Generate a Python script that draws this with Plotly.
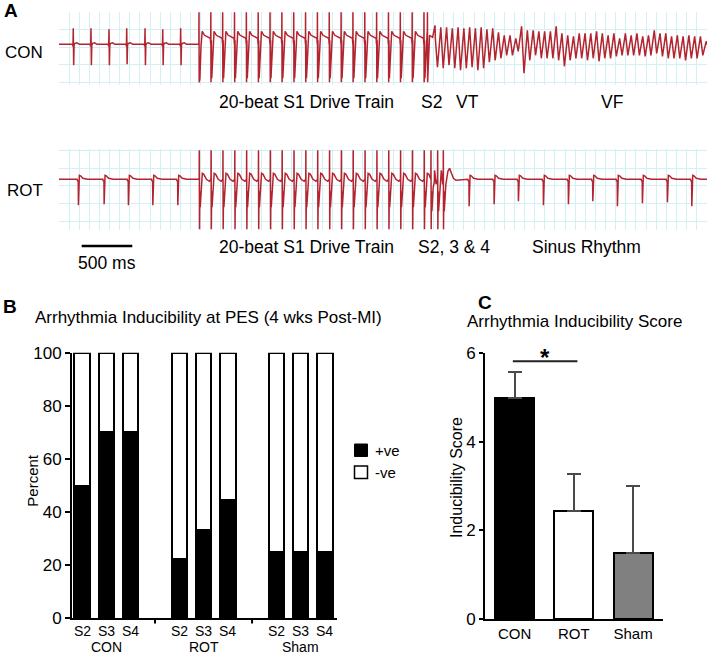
import plotly.graph_objects as go

W, H = 711, 657
def PX(x): return x / W
def PY(y): return 1 - y / H

FONT = "Arial, 'Liberation Sans', Helvetica, sans-serif"
RED = "#b3242f"
GRID = "#d3f0f4"

# ---------------- Panel A : ECG recordings (time in ms, amplitude in trace units) ----------------
con_sinus_ms = [141, 316, 494, 669, 850, 1025, 1202]
con_sinus_r = [16, 16, 15, 16, 16, 15, 16]
con_sinus_s = [-21, -21, -21, -20, -21, -21, -21]
con_s1_ms = [1383, 1500, 1617, 1734, 1851, 1968, 2085, 2202, 2319, 2436,
             2553, 2670, 2787, 2904, 3021, 3138, 3255, 3372, 3489, 3606]
con_s2_ms = [3640]
con_vt_ms = [3715, 3772, 3829, 3886, 3943, 4000, 4057, 4114, 4171, 4228, 4285, 4342,
             4399, 4456, 4513, 4570, 4627, 4684, 4741, 4798, 4855, 4912, 4969, 5026,
             5083, 5140, 5197, 5254, 5311, 5368, 5425, 5482, 5539, 5596, 5653, 5710,
             5767, 5824, 5881, 5938, 5995, 6052, 6109, 6166, 6223, 6280, 6337, 6394]
con_vt_peak = [19, 17, 17, 16, 17, 16, 17, 16, 17, 15, 16, 12, 9,
               9, 6, 18, 14, 14, 13, 13, 13, 18, 11, 9, 8, 11, 11, 11, 13, 11, 9, 11, 6,
               11, 9, 11, 8, 9, 14, 11, 11, 8, 9, 8, 9, 8, 8, 3]
con_vt_trough = [-23, -24, -21, -24, -26, -24, -23, -26, -24, -18, -16, -14, -11,
                 -11, -7, -29, -16, -11, -14, -14, -14, -16, -22, -16, -14, -14, -16, -14,
                 -17, -14, -14, -12, -11, -11, -11, -11, -12, -11, -9, -12, -14, -14, -14,
                 -16, -14, -14, -11, -4]

rot_sinus_pre_ms = [191, 445, 685, 926, 1173]
rot_sinus_pre_s = [-26, -25, -26, -26, -26]
rot_s1_ms = [1386, 1503, 1620, 1737, 1854, 1971, 2088, 2205, 2322, 2439,
             2556, 2673, 2790, 2907, 3024, 3141, 3258, 3375, 3492, 3609]
rot_extra_ms = [3675, 3741, 3797]          # S2, S3, S4
rot_sinus_post_ms = [4051, 4298, 4538, 4785, 5032, 5273, 5516, 5763, 6010, 6251]
rot_sinus_post_s = [-27, -25, -22, -26, -25, -22, -27, -24, -23, -27]

trace_end_ms = 6402
scale_bar_ms = 500

# ---------------- Panel B : inducibility (%) ----------------
groups = ["CON", "ROT", "Sham"]
stims = ["S2", "S3", "S4"]
pos_pct = [50, 70, 70, 22.2, 33.3, 44.4, 25, 25, 25]

# ---------------- Panel C : inducibility score ----------------
score_cats = ["CON", "ROT", "Sham"]
score_mean = [5.0, 2.44, 1.5]
score_sem = [0.58, 0.83, 1.5]
score_colors = ["#000000", "#ffffff", "#808080"]


# ----- beat shapes (style) -----
def con_sinus(t, r, s):
    return [(t - 8, 0), (t - 3, -2), (t, r), (t + 4, s), (t + 8, -1), (t + 16, 1), (t + 35, 1.5), (t + 60, 0)]

def con_s1(t):
    return [(t - 1, 0), (t, 32), (t + 2, -38), (t + 5, 4), (t + 9, -34), (t + 20, -2),
            (t + 32, 13), (t + 55, 9), (t + 85, 7), (t + 112, 6)]

def con_s2(t):
    return [(t - 1, 5), (t, 32), (t + 2, -38), (t + 6, -28), (t + 20, -4)]

def vt_cycle(t, p, q):
    return [(t, p), (t + 24, q)]

def rot_sinus(t, s):
    return [(t - 12, 0), (t - 6, -2), (t - 1, -1), (t + 1, s), (t + 4, -1), (t + 10, 4),
            (t + 22, 3.5), (t + 45, 1), (t + 90, 0)]

def rot_s1(t):
    return [(t - 1, 0), (t, 29), (t + 2, -50), (t + 5, -12), (t + 9, -28), (t + 16, -14),
            (t + 30, 6), (t + 45, 5), (t + 70, 0), (t + 100, -2), (t + 113, -1)]

def rot_extra(t, last):
    if not last:
        return [(t - 1, 0), (t, 29), (t + 2, -50), (t + 5, -12), (t + 9, -32), (t + 22, -8),
                (t + 36, 9), (t + 50, -5)]
    return [(t - 1, 0), (t, 29), (t + 2, -50), (t + 5, -12), (t + 9, -32), (t + 25, -5),
            (t + 45, 8), (t + 62, 11), (t + 80, 6), (t + 100, 1), (t + 125, -1)]


def assemble(chunks, end):
    pts = [(0, 0)]
    for c in chunks:
        pts.extend(c)
    pts.append((end, 0))
    pts.sort(key=lambda p: p[0])
    return [p[0] for p in pts], [p[1] for p in pts]


con_chunks = [con_sinus(t, r, s) for t, r, s in zip(con_sinus_ms, con_sinus_r, con_sinus_s)]
con_chunks += [con_s1(t) for t in con_s1_ms]
con_chunks += [con_s2(t) for t in con_s2_ms]
con_chunks += [vt_cycle(t, p, q) for t, p, q in zip(con_vt_ms, con_vt_peak, con_vt_trough)]
con_x, con_y = assemble(con_chunks, trace_end_ms)

rot_chunks = [rot_sinus(t, s) for t, s in zip(rot_sinus_pre_ms, rot_sinus_pre_s)]
rot_chunks += [rot_s1(t) for t in rot_s1_ms]
rot_chunks += [rot_extra(t, i == len(rot_extra_ms) - 1) for i, t in enumerate(rot_extra_ms)]
rot_chunks += [rot_sinus(t, s) for t, s in zip(rot_sinus_post_ms, rot_sinus_post_s)]
rot_x, rot_y = assemble(rot_chunks, trace_end_ms)

fig = go.Figure()

fig.add_trace(go.Scatter(x=con_x, y=con_y, mode="lines", line=dict(color=RED, width=1.5),
                         xaxis="x", yaxis="y", hoverinfo="skip"))
fig.add_trace(go.Scatter(x=rot_x, y=rot_y, mode="lines", line=dict(color=RED, width=1.5),
                         xaxis="x2", yaxis="y2", hoverinfo="skip"))

# Panel B bars
b_pos = [g * 4 + s for g in range(len(groups)) for s in range(len(stims))]
b_text = [s for _ in groups for s in stims]
neg_pct = [100 - v for v in pos_pct]
fig.add_trace(go.Bar(x=b_pos, y=pos_pct, width=0.64, name="+ve",
                     marker=dict(color="#000000", line=dict(color="#000000", width=2)),
                     xaxis="x3", yaxis="y3", hoverinfo="skip"))
fig.add_trace(go.Bar(x=b_pos, y=neg_pct, width=0.64, name="-ve",
                     marker=dict(color="#ffffff", line=dict(color="#000000", width=2)),
                     xaxis="x3", yaxis="y3", hoverinfo="skip"))

# Panel C bars
c_pos = list(range(len(score_cats)))
fig.add_trace(go.Bar(x=c_pos, y=score_mean, width=0.66,
                     marker=dict(color=score_colors, line=dict(color="#000000", width=2)),
                     error_y=dict(type="data", symmetric=False, array=score_sem,
                                  arrayminus=[0] * len(score_sem), color="#4a4a4a",
                                  thickness=2, width=7),
                     xaxis="x4", yaxis="y4", hoverinfo="skip"))

hidden = dict(showticklabels=False, ticks="", zeroline=False, showline=False)
tfont = dict(family=FONT, size=17, color="#000")

fig.update_layout(
    width=W, height=H, margin=dict(l=0, r=0, t=0, b=0, pad=0, autoexpand=False), autosize=False,
    paper_bgcolor="white", plot_bgcolor="rgba(0,0,0,0)", showlegend=False,
    barmode="stack", font=dict(family=FONT, color="#000"),
    xaxis=dict(domain=[PX(59), PX(707)], range=[0, trace_end_ms], anchor="y",
               showgrid=True, gridcolor=GRID, gridwidth=1, tick0=0, dtick=100, **hidden),
    yaxis=dict(domain=[PY(85), PY(12)], range=[-40.7, 32.3], anchor="x",
               showgrid=True, gridcolor=GRID, gridwidth=1, tick0=-38, dtick=17.5, **hidden),
    xaxis2=dict(domain=[PX(59), PX(707)], range=[0, trace_end_ms], anchor="y2",
                showgrid=True, gridcolor=GRID, gridwidth=1, tick0=0, dtick=100, **hidden),
    yaxis2=dict(domain=[PY(230), PY(149)], range=[-50.7, 30.3], anchor="x2",
                showgrid=True, gridcolor=GRID, gridwidth=1, tick0=-42.4, dtick=17.9, **hidden),
    xaxis3=dict(domain=[PX(72), PX(337)], range=[-0.42, 10.5], anchor="y3",
                showticklabels=False, ticks="", showline=True, linewidth=2,
                linecolor="#000", showgrid=False, zeroline=False),
    yaxis3=dict(domain=[PY(618.3), PY(352.7)], range=[0, 100], anchor="x3",
                tickvals=[0, 20, 40, 60, 80, 100], ticks="outside", ticklen=5, tickwidth=2,
                tickcolor="#000", showline=True, linewidth=2, linecolor="#000",
                showgrid=False, zeroline=False, tickfont=tfont),
    xaxis4=dict(domain=[PX(485), PX(662.7)], range=[-0.5, 2.5], anchor="y4",
                tickvals=c_pos, ticktext=score_cats, ticks="", showline=True, linewidth=2,
                linecolor="#000", showgrid=False, zeroline=False,
                tickfont=dict(family=FONT, size=15, color="#000")),
    yaxis4=dict(domain=[PY(619), PY(353.3)], range=[0, 6], anchor="x4",
                tickvals=[0, 2, 4, 6], ticks="outside", ticklen=4, tickwidth=2,
                tickcolor="#000", showline=True, linewidth=2, linecolor="#000",
                showgrid=False, zeroline=False, tickfont=tfont),
)

ann = []
def text(x, y, s, size=17, bold=False, xref="paper", yref="paper", xanchor="center",
         yanchor="middle", angle=0):
    ann.append(dict(x=x, y=y, xref=xref, yref=yref, text=("<b>%s</b>" % s) if bold else s,
                    showarrow=False, xanchor=xanchor, yanchor=yanchor, textangle=angle,
                    font=dict(family=FONT, size=size, color="#000")))

# Panel A texts
text(PX(11), PY(11), "A", size=19, bold=True)
text(PX(24), PY(52.5), "CON")
text(PX(24.7), PY(191), "ROT")
text(PX(306), PY(101.7), "20-beat S1 Drive Train", size=17.5)
text(PX(431.7), PY(101.7), "S2", size=17.5)
text(PX(467.5), PY(101.7), "VT", size=17.5)
text(PX(611.7), PY(101.7), "VF", size=17.5)
text(PX(306.3), PY(247.5), "20-beat S1 Drive Train", size=17.5)
text(PX(454.2), PY(247.5), "S2, 3 &amp; 4", size=17.5)
text(PX(586.7), PY(247.5), "Sinus Rhythm", size=17.5)
text(224 + scale_bar_ms / 2, PY(262.5), "500 ms", xref="x2", size=17.5)

# Panel B texts
text(PX(10), PY(306.7), "B", size=19, bold=True)
text(PX(208.7), PY(317.2), "Arrhythmia Inducibility at PES (4 wks Post-MI)")
text(PX(31.7), PY(480), "Percent", size=15, angle=-90)
for p, s in zip(b_pos, b_text):
    text(p, PY(620.5), s, size=14, xref="x3", yanchor="top")
for gi, g in enumerate(groups):
    text(gi * 4 + 1, PY(657), g, size=14, xref="x3", yanchor="bottom")
text(PX(373), PY(450.5), "+ve", size=15, xanchor="left")
text(PX(373), PY(472.5), "-ve", size=15, xanchor="left")

# Panel C texts
text(PX(485), PY(303), "C", size=19, bold=True)
text(PX(574), PY(321.7), "Arrhythmia Inducibility Score")
text(PX(456), PY(478), "Inducibility Score", size=16, angle=-90)
ann.append(dict(x=0.51, y=5.9, xref="x4", yref="y4", text="<b>*</b>", showarrow=False,
                xanchor="center", yanchor="middle", font=dict(family=FONT, size=24, color="#000")))
fig.update_layout(annotations=ann)

shapes = [
    # scale bar
    dict(type="line", xref="x2", yref="paper", x0=224, x1=224 + scale_bar_ms,
         y0=PY(246), y1=PY(246), line=dict(color="#000", width=2.5)),
    # legend swatches B
    dict(type="rect", xref="paper", yref="paper", x0=PX(354.5), x1=PX(367.5), y0=PY(456.5), y1=PY(444),
         fillcolor="#000", line=dict(color="#000", width=1)),
    dict(type="rect", xref="paper", yref="paper", x0=PX(354.5), x1=PX(367.5), y0=PY(478.5), y1=PY(466),
         fillcolor="#fff", line=dict(color="#000", width=1.5)),
    # significance bar C
    dict(type="line", xref="x4", yref="y4", x0=-0.03, x1=1.06, y0=5.82, y1=5.82,
         line=dict(color="#222", width=2)),
]
# group separator ticks B
for sep in [3, 7]:
    shapes.append(dict(type="line", xref="x3", yref="paper", x0=sep, x1=sep,
                       y0=PY(619), y1=PY(623.5), line=dict(color="#000", width=2)))
fig.update_layout(shapes=shapes)

fig.write_html(
    "out.html",
    config={"responsive": False, "displayModeBar": False},
    post_script="document.documentElement.style.margin='0';document.documentElement.style.padding='0';"
                "document.body.style.margin='0';document.body.style.padding='0';"
                "document.body.style.overflow='hidden';",
)
